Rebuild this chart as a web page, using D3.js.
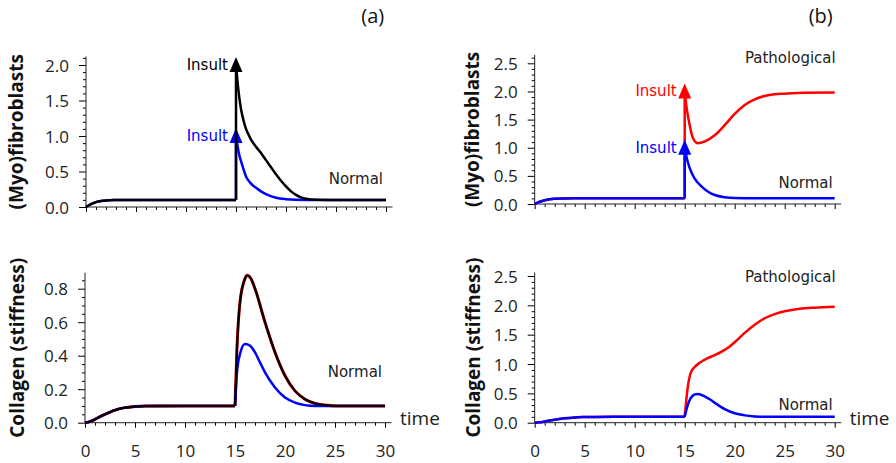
<!DOCTYPE html>
<html>
<head>
<meta charset="utf-8">
<script src="https://cdn.jsdelivr.net/npm/d3@7"></script>
<style>
  body { margin: 0; background: #fff; }
  svg { display: block; }
</style>
</head>
<body>
<svg id="chart" width="896" height="463"></svg>
<script>
// x axis
var timeTicks = [0, 5, 10, 15, 20, 25, 30];
var insultTime = 15;

// before the insult (identical for both columns)
var tMyoPre = [0, 0.5, 1, 1.5, 2, 3, 4, 5, 10, 15];
var myoPre = [0, 0.04, 0.068, 0.085, 0.093, 0.098, 0.1, 0.1, 0.1, 0.1];
var tColPre = [0, 0.5, 1, 1.5, 2, 3, 4, 5, 6, 10, 15];
var colPre = [0, 0.006, 0.02, 0.036, 0.05, 0.075, 0.09, 0.096, 0.099, 0.1, 0.1];

// (a) myofibroblasts after insult
var tMyoNormalA = [15, 15.3, 15.6, 16, 16.5, 17, 17.5, 18, 19, 20, 21, 22, 25, 30];
var myoNormalA = [1.0, 0.75, 0.6, 0.43, 0.33, 0.27, 0.22, 0.18, 0.13, 0.11, 0.102, 0.1, 0.1, 0.1];
var tMyoBigA = [15, 15.2, 15.5, 15.75, 16, 16.25, 16.5, 17, 17.5, 18, 18.5, 19, 19.5, 20, 20.5, 21, 21.5, 22, 23, 25, 30];
var myoBigA = [2.0, 1.7, 1.38, 1.22, 1.1, 1.02, 0.95, 0.85, 0.76, 0.66, 0.56, 0.46, 0.37, 0.29, 0.22, 0.17, 0.135, 0.115, 0.102, 0.1, 0.1];

// (a) collagen after insult
var tColBigA = [15, 15.2, 15.5, 16, 16.2, 16.6, 17, 18, 19, 20, 21, 22, 23, 24, 25, 30];
var colBigA = [0.1, 0.45, 0.72, 0.86, 0.88, 0.86, 0.8, 0.6, 0.42, 0.28, 0.19, 0.14, 0.115, 0.105, 0.1, 0.1];
var tColNormalA = [15, 15.2, 15.5, 16, 16.5, 17, 17.5, 18, 19, 20, 21, 22, 23, 24, 30];
var colNormalA = [0.1, 0.3, 0.41, 0.47, 0.46, 0.42, 0.36, 0.3, 0.21, 0.15, 0.12, 0.105, 0.1, 0.1, 0.1];

// (b) myofibroblasts after insult
var tMyoNormalB = [15, 15.3, 15.7, 16, 16.7, 17.5, 18, 19, 20, 22, 30];
var myoNormalB = [1.0, 0.75, 0.55, 0.45, 0.31, 0.2, 0.16, 0.12, 0.105, 0.1, 0.1];
var tMyoPathB = [15, 15.2, 15.5, 15.8, 16.3, 17, 18, 19, 20, 21, 22, 23, 24, 25, 27, 30];
var myoPathB = [2.0, 1.7, 1.4, 1.18, 1.08, 1.11, 1.22, 1.4, 1.6, 1.76, 1.86, 1.92, 1.95, 1.96, 1.975, 1.98];

// (b) collagen after insult
var tColPathB = [15, 15.3, 15.6, 16, 16.5, 17.3, 18, 18.7, 19.5, 20, 21, 22, 23, 24, 25, 26, 27, 28, 30];
var colPathB = [0.1, 0.6, 0.85, 0.95, 1.02, 1.1, 1.15, 1.21, 1.3, 1.37, 1.53, 1.67, 1.78, 1.85, 1.9, 1.93, 1.95, 1.96, 1.975];
var tColNormalB = [15, 15.3, 15.6, 16, 16.3, 17, 17.5, 18, 19, 20, 21, 22, 23, 30];
var colNormalB = [0.1, 0.3, 0.42, 0.48, 0.49, 0.45, 0.4, 0.34, 0.23, 0.16, 0.125, 0.107, 0.1, 0.1];

var BLUE = "#0000ff", RED = "#ff0000", BLACK = "#000000";

function zip(ts, vs) {
    return ts.map(function (t, i) { return { t: t, v: vs[i] }; });
}

var svg = d3.select("#chart");

function panel(cfg) {
    var g = svg.append("g");

    var x = d3.scaleLinear().domain([0, 30]).range([cfg.left, cfg.left + 300]);
    var y = d3.scaleLinear().domain([0, cfg.refVal]).range([cfg.bottom, cfg.refPx]);

    // minor x ticks
    var xMinor = d3.range(0, 31).filter(function (d) { return d % 5 !== 0; });
    g.append("g")
        .attr("transform", "translate(0," + cfg.bottom + ")")
        .call(d3.axisBottom(x).tickValues(xMinor).tickSize(3).tickFormat(""))
        .call(function (s) { s.select(".domain").remove(); });

    // major x ticks
    var xa = g.append("g")
        .attr("transform", "translate(0," + cfg.bottom + ")")
        .call(d3.axisBottom(x).tickValues(timeTicks).tickSize(5).tickPadding(17)
            .tickFormat(cfg.xLabels ? d3.format("d") : ""));
    xa.select(".domain").remove();
    xa.attr("font-family", "'Open Sans', sans-serif").attr("font-size", 17);
    xa.selectAll("text").attr("fill", "#222");

    // minor y ticks
    var nMinor = Math.floor(cfg.topVal / cfg.minorStep + 1e-6);
    var yMinor = d3.range(0, nMinor + 1).map(function (i) { return +(i * cfg.minorStep).toFixed(3); })
        .filter(function (d) { return cfg.yTicks.indexOf(d) < 0; });
    g.append("g")
        .attr("transform", "translate(" + cfg.left + ",0)")
        .call(d3.axisLeft(y).tickValues(yMinor).tickSize(3).tickFormat(""))
        .call(function (s) { s.select(".domain").remove(); });

    // major y ticks
    var ya = g.append("g")
        .attr("transform", "translate(" + cfg.left + ",0)")
        .call(d3.axisLeft(y).tickValues(cfg.yTicks).tickSize(7).tickPadding(10)
            .tickFormat(d3.format(".1f")));
    ya.select(".domain").remove();
    ya.attr("font-family", "'Open Sans', sans-serif").attr("font-size", 17);
    ya.selectAll("text").attr("fill", "#222").attr("dy", "0.36em");

    // axis lines
    g.append("line")
        .attr("x1", x(0)).attr("x2", x(30.65))
        .attr("y1", cfg.bottom).attr("y2", cfg.bottom)
        .attr("stroke", "#222");
    g.append("line")
        .attr("x1", cfg.left).attr("x2", cfg.left)
        .attr("y1", cfg.bottom).attr("y2", y(cfg.topVal))
        .attr("stroke", "#222");

    // y title
    var cy = (cfg.bottom + y(cfg.topVal)) / 2;
    g.append("text")
        .attr("transform", "translate(" + cfg.titleX + "," + cy + ") rotate(-90)")
        .attr("text-anchor", "middle")
        .attr("dominant-baseline", "central")
        .attr("font-family", "'Open Sans', sans-serif")
        .attr("font-weight", "bold")
        .attr("font-size", 19)
        .attr("fill", "#111")
        .text(cfg.title);

    var line = d3.line()
        .x(function (d) { return x(d.t); })
        .y(function (d) { return y(d.v); })
        .curve(d3.curveMonotoneX);

    cfg.series.forEach(function (s) {
        g.append("path")
            .datum(zip(s.t, s.v))
            .attr("fill", "none")
            .attr("stroke", s.color)
            .attr("stroke-width", s.width || 2.5)
            .attr("d", line);
        if (s.arrow) {
            var px = x(insultTime), p0 = y(s.arrow[0]), p1 = y(s.arrow[1]);
            g.append("line")
                .attr("x1", px).attr("x2", px)
                .attr("y1", p0).attr("y2", p1)
                .attr("stroke", s.color).attr("stroke-width", 2.5);
            g.append("path")
                .attr("d", "M" + (px - 6.5) + "," + (p1 + 7) + "L" + px + "," + (p1 - 8) +
                    "L" + (px + 6.5) + "," + (p1 + 7) + "Z")
                .attr("fill", s.color);
            g.append("text")
                .attr("x", px - 8).attr("y", p1)
                .attr("text-anchor", "end")
                .attr("dominant-baseline", "central")
                .attr("font-family", "'DejaVu Sans', sans-serif")
                .attr("font-size", 15)
                .attr("fill", s.color)
                .text("Insult");
        }
    });

    cfg.notes.forEach(function (n) {
        g.append("text")
            .attr("x", x(n.t)).attr("y", y(n.v))
            .attr("text-anchor", "end")
            .attr("dominant-baseline", "central")
            .attr("font-family", "'DejaVu Sans', sans-serif")
            .attr("font-size", 15)
            .attr("fill", "#222")
            .text(n.text);
    });

    if (cfg.xLabels) {
        g.append("text")
            .attr("x", x(30) + 15).attr("y", cfg.bottom - 5)
            .attr("dominant-baseline", "central")
            .attr("font-family", "'Open Sans', sans-serif")
            .attr("font-size", 19)
            .attr("fill", "#222")
            .text("time");
    }
}

// (a) myofibroblasts
panel({
    left: 86, bottom: 207, refVal: 2, refPx: 65, topVal: 2.12,
    yTicks: [0, 0.5, 1, 1.5, 2], minorStep: 0.1,
    xLabels: false, titleX: 16, title: "(Myo)fibroblasts",
    series: [
        { t: tMyoPre, v: myoPre, color: BLUE },
        { t: tMyoNormalA, v: myoNormalA, color: BLUE, arrow: [0.1, 1.0] },
        { t: tMyoPre, v: myoPre, color: BLACK },
        { t: tMyoBigA, v: myoBigA, color: BLACK, arrow: [0.1, 2.0] }
    ],
    notes: [{ t: 29.7, v: 0.39, text: "Normal" }]
});

// (a) collagen
panel({
    left: 85, bottom: 422.7, refVal: 0.8, refPx: 288.7, topVal: 0.895,
    yTicks: [0, 0.2, 0.4, 0.6, 0.8], minorStep: 0.05,
    xLabels: true, titleX: 17, title: "Collagen (stiffness)",
    series: [
        { t: tColPre, v: colPre, color: RED, width: 3 },
        { t: tColBigA, v: colBigA, color: RED, width: 3 },
        { t: tColPre, v: colPre, color: BLUE },
        { t: tColNormalA, v: colNormalA, color: BLUE },
        { t: tColPre, v: colPre, color: BLACK, width: 2.3 },
        { t: tColBigA, v: colBigA, color: BLACK, width: 2.3 }
    ],
    notes: [{ t: 29.7, v: 0.3, text: "Normal" }]
});

// (b) myofibroblasts
panel({
    left: 534.7, bottom: 204, refVal: 2.5, refPx: 63.3, topVal: 2.65,
    yTicks: [0, 0.5, 1, 1.5, 2, 2.5], minorStep: 0.1,
    xLabels: false, titleX: 471.5, title: "(Myo)fibroblasts",
    series: [
        { t: tMyoPre, v: myoPre, color: RED },
        { t: tMyoPathB, v: myoPathB, color: RED, arrow: [0.1, 2.0] },
        { t: tMyoPre, v: myoPre, color: BLUE },
        { t: tMyoNormalB, v: myoNormalB, color: BLUE, arrow: [0.1, 1.0] }
    ],
    notes: [
        { t: 30.1, v: 2.59, text: "Pathological" },
        { t: 29.8, v: 0.38, text: "Normal" }
    ]
});

// (b) collagen
panel({
    left: 534.7, bottom: 422.7, refVal: 2.5, refPx: 276, topVal: 2.56,
    yTicks: [0, 0.5, 1, 1.5, 2, 2.5], minorStep: 0.1,
    xLabels: true, titleX: 473, title: "Collagen (stiffness)",
    series: [
        { t: tColPre, v: colPre, color: RED },
        { t: tColPathB, v: colPathB, color: RED },
        { t: tColPre, v: colPre, color: BLUE },
        { t: tColNormalB, v: colNormalB, color: BLUE }
    ],
    notes: [
        { t: 30.1, v: 2.49, text: "Pathological" },
        { t: 29.8, v: 0.3, text: "Normal" }
    ]
});

// panel letters
svg.append("text").attr("x", 372.7).attr("y", 15)
    .attr("text-anchor", "middle").attr("dominant-baseline", "central")
    .attr("font-family", "'Open Sans', sans-serif").attr("font-size", 20).attr("fill", "#111")
    .text("(a)");
svg.append("text").attr("x", 820.7).attr("y", 15)
    .attr("text-anchor", "middle").attr("dominant-baseline", "central")
    .attr("font-family", "'Open Sans', sans-serif").attr("font-size", 20).attr("fill", "#111")
    .text("(b)");
</script>
</body>
</html>
